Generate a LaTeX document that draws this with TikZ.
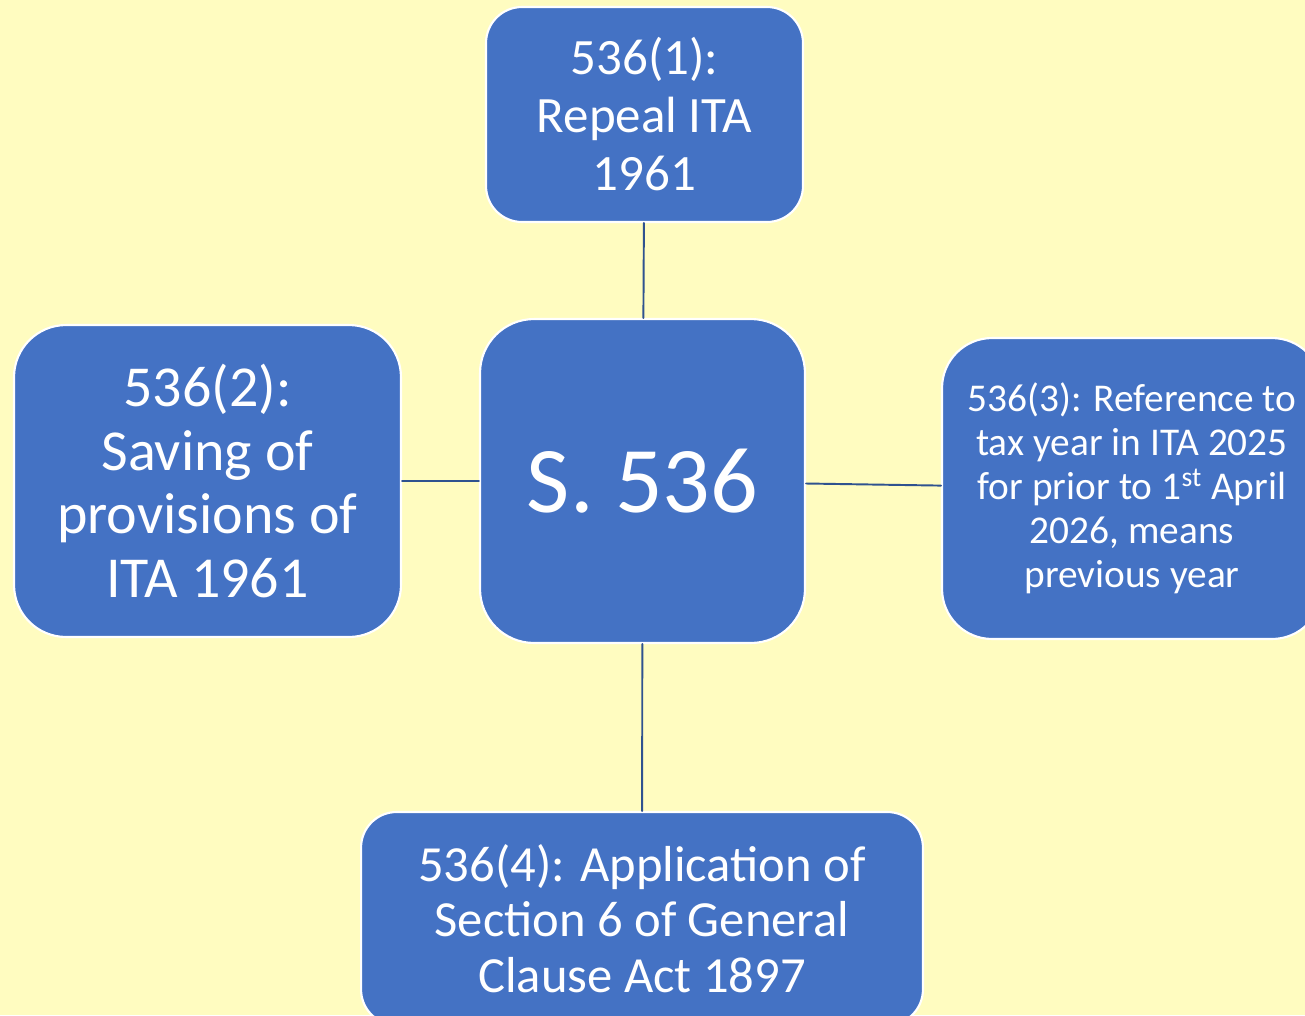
\documentclass[tikz,border=0pt]{standalone}
\usepackage{fontspec}
\setmainfont{Carlito}
\definecolor{nen}{HTML}{FFFCC0}
\definecolor{hop}{HTML}{4472C4}
\definecolor{noi}{HTML}{2F528F}
\begin{document}
\begin{tikzpicture}[x=.02cm, y=-.02cm, line join=round, line cap=round,
	o/.style={draw=white, line width=1.2pt, fill=hop, text=white, align=center, inner sep=0pt}]
	\useasboundingbox (0,0) rectangle (1305,1015);
	\clip (0,0) rectangle (1305,1015);
	\fill[nen] (0,0) rectangle (1305,1015); % nền
	% ô giữa
	\node[o, minimum width=6.5cm, minimum height=6.48cm, rounded corners=1.08cm, font=\fontsize{53.5}{60}\selectfont] (S) at (642.5,481) {S. 536};
	% bốn ô xung quanh
	\node[o, minimum width=6.34cm, minimum height=4.3cm, rounded corners=.72cm, font=\fontsize{29}{33}\selectfont] (A) at (644.5,114.5) {536(1):\\Repeal ITA\\1961};
	\node[o, minimum width=7.74cm, minimum height=6.24cm, rounded corners=1.04cm, font=\fontsize{33}{36.4}\selectfont] (B) at (207.5,481) {536(2):\\Saving of\\provisions of\\ITA 1961};
	\node[o, minimum width=7.6cm, minimum height=6.02cm, rounded corners=1cm, font=\fontsize{22.4}{25}\selectfont] (C) at (1132,488.5) {536(3): Reference to\\tax year in ITA 2025\\for prior to 1\textsuperscript{st} April\\2026, means\\previous year};
	\node[o, minimum width=11.24cm, minimum height=4.26cm, rounded corners=.71cm, font=\fontsize{28.8}{31.6}\selectfont] (D) at (642,918.5) {536(4): Application of\\Section 6 of General\\Clause Act 1897};
	\foreach \o in {A,B,C,D} \draw[noi, line width=1.1pt] (S)--(\o);
\end{tikzpicture}
\end{document}
